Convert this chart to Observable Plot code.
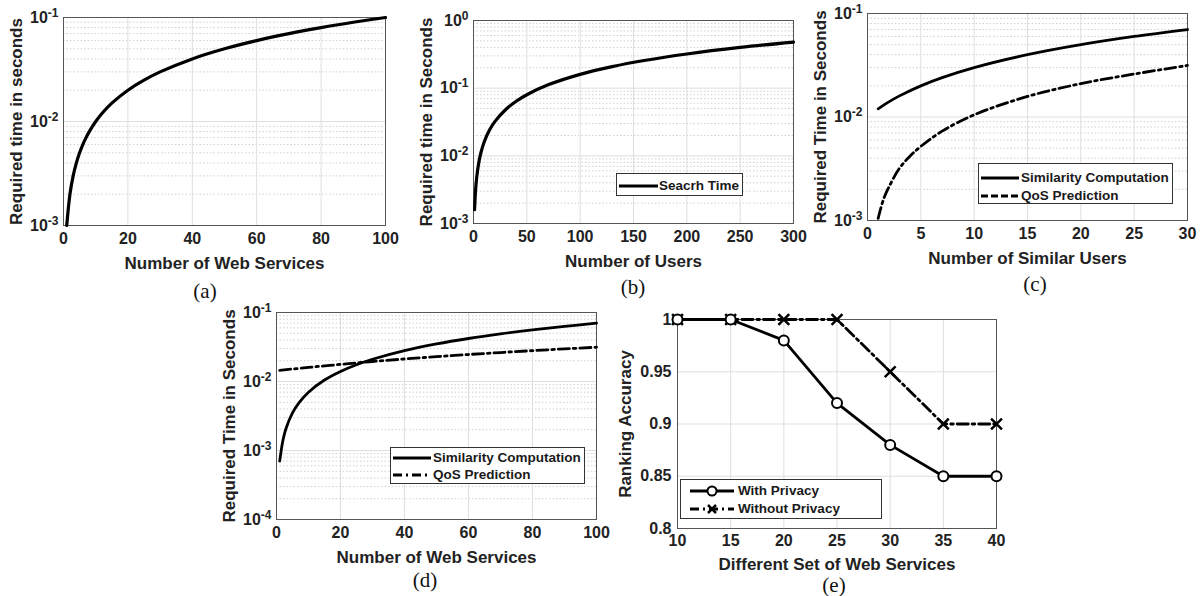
<!DOCTYPE html>
<html><head><meta charset="utf-8">
<script src="https://cdn.jsdelivr.net/npm/d3@7"></script>
<script src="https://cdn.jsdelivr.net/npm/@observablehq/plot@0.6"></script>
<style>
body{margin:0;background:#fff;}
#fig{position:relative;width:1201px;height:596px;overflow:hidden;background:#fff;font-family:"Liberation Sans",Arial,sans-serif;}
#fig svg.p{position:absolute;max-width:none;}
.cap{position:absolute;font-family:"Liberation Serif","Times New Roman",serif;font-size:21px;line-height:1;color:#111;transform:translate(-50%,-50%);white-space:nowrap;}
.leg{position:absolute;background:#fff;border:1px solid #333;font-weight:bold;font-size:13.5px;color:#1a1a1a;box-sizing:border-box;}
.leg .row{position:absolute;left:0;height:18px;margin-top:-9px;white-space:nowrap;}
.leg .row svg{position:absolute;left:0;top:0;}
.leg .row span{position:absolute;top:1px;}
</style></head><body><div id="fig"></div><script>
// ---------- data ----------
// (a)
const aX = [1,2,3,4,5,6,7,8,10,12,15,20,25,30,40,50,60,70,80,90,100];
const aY = [0.001,0.002,0.003,0.004,0.005,0.006,0.007,0.008,0.010,0.012,0.015,0.020,0.025,0.030,0.040,0.050,0.060,0.070,0.080,0.090,0.100];
// (b)
const bX = [1,2,3,5,7,10,15,20,30,40,50,70,100,130,160,200,250,300];
const bY = [0.0016,0.0032,0.0048,0.008,0.0112,0.016,0.024,0.032,0.048,0.064,0.08,0.112,0.16,0.208,0.256,0.32,0.40,0.48];
// (c)
const cSimX = [1,2,3,5,7,10,15,20,25,30];
const cSimY = [0.012,0.014,0.016,0.020,0.024,0.030,0.040,0.050,0.060,0.070];
const cQosX = [1,1.5,2,3,4,5,7,10,15,20,25,30];
const cQosY = [0.00105,0.0016,0.0021,0.0032,0.0042,0.0052,0.0073,0.0105,0.0158,0.021,0.026,0.0315];
// (d)
const dSimX = [1,2,3,5,7,10,15,20,25,30,40,50,60,70,80,90,100];
const dSimY = [0.0007,0.0014,0.0021,0.0035,0.0049,0.007,0.0105,0.014,0.0175,0.021,0.028,0.035,0.042,0.049,0.056,0.063,0.070];
const dQosX = [1,10,20,30,40,50,60,70,80,90,100];
const dQosY = [0.0145,0.016,0.0177,0.0195,0.0212,0.0229,0.0246,0.0263,0.028,0.0297,0.0314];
// (e)
const eX = [10,15,20,25,30,35,40];
const eWith = [1,1,0.98,0.92,0.88,0.85,0.85];
const eWithout = [1,1,1,1,0.95,0.90,0.90];
// ticks / labels
const aXTicks = [0,20,40,60,80,100];
const bXTicks = [0,50,100,150,200,250,300];
const cXTicks = [0,5,10,15,20,25,30];
const dXTicks = [0,20,40,60,80,100];
const eXTicks = [10,15,20,25,30,35,40];
const eYTicks = [0.8,0.85,0.9,0.95,1];
const eYLabels = ["0.8","0.85","0.9","0.95","1"];
const aYExp = [-3,-2,-1];
const bYExp = [-3,-2,-1,0];
const cYExp = [-3,-2,-1];
const dYExp = [-4,-3,-2,-1];
const legB = ["Seacrh Time"];
const legCD = ["Similarity Computation","QoS Prediction"];
const legE = ["With Privacy","Without Privacy"];

// ---------- helpers ----------
const FONT = "'Liberation Sans', Arial, sans-serif";
const fig = document.getElementById("fig");
const pts = (xs, ys) => xs.map((x,i)=>({x, y: ys[i]}));
const DASHDOT = "11,4,2.5,4";
const GRID = "#dedede";

function finish(svg, left, top, exps){
  svg.classList.add("p");
  svg.style.left = left+"px"; svg.style.top = top+"px";
  svg.querySelectorAll('g[aria-label="x-axis label"] text, g[aria-label="y-axis label"] text').forEach(t=>{
    t.setAttribute("font-size","17px");
  });
  svg.querySelectorAll('g[aria-label="x-axis tick label"] text, g[aria-label="y-axis tick label"] text').forEach(t=>{
    t.setAttribute("font-size","16px");
  });
  if (exps) {
    svg.querySelectorAll('g[aria-label="y-axis tick label"] text').forEach(t=>{
      const s = t.textContent; const [base, ex] = s.split("^");
      t.textContent = base;
      const ts = document.createElementNS("http://www.w3.org/2000/svg","tspan");
      ts.setAttribute("dy","-0.5em"); ts.setAttribute("font-size","12px");
      ts.textContent = ex; t.appendChild(ts);
    });
  }
  fig.appendChild(svg);
}

function logPanel({left, top, width, height, m, xDomain, xTicks, xLabel, yExp, yLabel, lines}){
  const decades = yExp.map(e => +(`1e${e}`));
  const minor = decades.slice(0,-1).flatMap(d => [2,3,4,5,6,7,8,9].map(k => +(k*d).toPrecision(3)));
  const svg = Plot.plot({
    width, height, marginLeft:m[0], marginTop:m[1], marginRight:m[2], marginBottom:m[3],
    style:{fontFamily:FONT, fontSize:"16px", fontWeight:"bold", color:"#222", background:"none", overflow:"visible"},
    x:{domain:xDomain, ticks:xTicks, tickSize:0, tickPadding:7, label:xLabel, labelAnchor:"center", labelArrow:"none", labelOffset:43},
    y:{type:"log", domain:[decades[0], decades[decades.length-1]], ticks:decades,
       tickFormat: d => `10^${Math.round(Math.log10(d))}`, tickSize:0, tickPadding:5,
       label:yLabel, labelAnchor:"center", labelArrow:"none", labelOffset:54},
    marks:[
      Plot.ruleY(minor, {stroke:"#d0d0d0", strokeDasharray:"1.5,2", strokeWidth:1}),
      Plot.ruleY(decades, {stroke:GRID}),
      Plot.ruleX(xTicks, {stroke:GRID}),
      Plot.frame({stroke:"#555", strokeWidth:1}),
      ...lines.map(l => Plot.line(pts(l.x, l.y), {x:"x", y:"y", stroke:"#000", strokeWidth:l.w || 3.2, strokeDasharray:l.dash, curve:"catmull-rom"}))
    ]
  });
  finish(svg, left, top, true);
}

function legend(left, top, w, h, rows){
  const d = document.createElement("div");
  d.className = "leg";
  Object.assign(d.style, {left:left+"px", top:top+"px", width:w+"px", height:h+"px"});
  rows.forEach(r=>{
    const row = document.createElement("div");
    row.className = "row"; row.style.top = r.y+"px"; row.style.width = w+"px";
    let s = `<svg width="${w}" height="18"><line x1="${r.x1}" x2="${r.x2}" y1="9" y2="9" stroke="#000" stroke-width="3" ${r.dash?`stroke-dasharray="${r.dash}"`:""}/>`;
    if (r.marker === "circle") s += `<circle cx="${(r.x1+r.x2)/2}" cy="9" r="4.5" fill="#fff" stroke="#000" stroke-width="2"/>`;
    if (r.marker === "times") { const c=(r.x1+r.x2)/2; s += `<path d="M${c-4},5L${c+4},13M${c-4},13L${c+4},5" stroke="#000" stroke-width="2.5"/>`; }
    s += `</svg><span style="left:${r.tx}px">${r.label}</span>`;
    row.innerHTML = s;
    d.appendChild(row);
  });
  fig.appendChild(d);
}
function caption(text, x, y){
  const c = document.createElement("div"); c.className="cap"; c.textContent=text;
  c.style.left = x+"px"; c.style.top = y+"px"; fig.appendChild(c);
}

// ---------- panels ----------
logPanel({left:0, top:0, width:400, height:300, m:[63,17,15,75], xDomain:[0,100], xTicks:aXTicks,
  xLabel:"Number of Web Services", yExp:aYExp, yLabel:"Required time in seconds",
  lines:[{x:aX, y:aY}]});
logPanel({left:400, top:0, width:400, height:300, m:[73,20,7,77], xDomain:[0,300], xTicks:bXTicks,
  xLabel:"Number of Users", yExp:bYExp, yLabel:"Required time in Seconds",
  lines:[{x:bX, y:bY}]});
logPanel({left:800, top:0, width:401, height:300, m:[67,13,14,80], xDomain:[0,30], xTicks:cXTicks,
  xLabel:"Number of Similar Users", yExp:cYExp, yLabel:"Required Time in Seconds",
  lines:[{x:cSimX, y:cSimY, w:2.8},{x:cQosX, y:cQosY, w:2.8, dash:DASHDOT}]});
logPanel({left:190, top:290, width:410, height:306, m:[86,22,4,77], xDomain:[0,100], xTicks:dXTicks,
  xLabel:"Number of Web Services", yExp:dYExp, yLabel:"Required Time in Seconds",
  lines:[{x:dSimX, y:dSimY, w:2.8},{x:dQosX, y:dQosY, w:2.8, dash:DASHDOT}]});

// (e)
{
  const svg = Plot.plot({
    width:420, height:306, marginLeft:77, marginTop:29, marginRight:24, marginBottom:68,
    style:{fontFamily:FONT, fontSize:"16px", fontWeight:"bold", color:"#222", background:"none", overflow:"visible"},
    x:{domain:[10,40], ticks:eXTicks, tickSize:0, tickPadding:6, label:"Different Set of Web Services", labelAnchor:"center", labelArrow:"none", labelOffset:41},
    y:{domain:[0.8,1], ticks:eYTicks, tickFormat:(d)=>eYLabels[eYTicks.findIndex(t=>Math.abs(t-d)<1e-9)], tickSize:0, tickPadding:6,
       label:"Ranking Accuracy", labelAnchor:"center", labelArrow:"none", labelOffset:59},
    marks:[
      Plot.ruleY(eYTicks, {stroke:GRID}),
      Plot.ruleX(eXTicks, {stroke:GRID}),
      Plot.frame({stroke:"#555"}),
      Plot.line(pts(eX, eWithout), {x:"x", y:"y", stroke:"#000", strokeWidth:2.8, strokeDasharray:DASHDOT}),
      Plot.line(pts(eX, eWith), {x:"x", y:"y", stroke:"#000", strokeWidth:2.8}),
      Plot.dot(pts(eX, eWithout), {x:"x", y:"y", symbol:"times", r:5, stroke:"#000", strokeWidth:2.5}),
      Plot.dot(pts(eX, eWith), {x:"x", y:"y", symbol:"circle", r:5, stroke:"#000", fill:"#fff", strokeWidth:2})
    ]
  });
  finish(svg, 600, 290, false);
}

// legends
legend(616, 173, 127, 23, [{y:11.5, x1:2, x2:41, tx:42, label:legB[0]}]);
legend(978, 163, 195, 41, [{y:14, x1:2, x2:40, tx:42, label:legCD[0]},{y:32, x1:2, x2:40, tx:42, label:legCD[1], dash:"7,3"}]);
legend(390, 447, 195, 37, [{y:9.5, x1:2, x2:40, tx:42, label:legCD[0]},{y:27, x1:2, x2:40, tx:42, label:legCD[1], dash:"9,4,2,4"}]);
legend(680, 479, 202, 40, [{y:11, x1:9, x2:53, tx:57, label:legE[0], marker:"circle"},{y:29, x1:9, x2:53, tx:57, label:legE[1], marker:"times", dash:"9,4,2,4"}]);

// captions
caption("(a)", 205, 291);
caption("(b)", 633, 287);
caption("(c)", 1035, 284);
caption("(d)", 425, 580);
caption("(e)", 834, 585);
</script></body></html>
